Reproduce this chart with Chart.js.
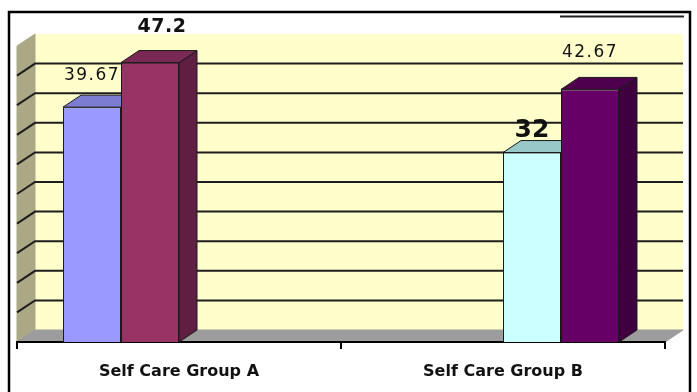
<!DOCTYPE html>
<html>
<head>
<meta charset="utf-8">
<script src="https://cdn.jsdelivr.net/npm/chart.js@4.4.0/dist/chart.umd.min.js"></script>
<style>
body{margin:0;background:#fff}
canvas{display:block}
</style>
</head>
<body>
<canvas id="chart" width="697" height="392"></canvas>
<script>
// data ------------------------------------------->
const categories = ['Self Care Group A', 'Self Care Group B']
const seriesA1 = [39.67, null]
const seriesA2 = [47.2, null]
const seriesB1 = [null, 32]
const seriesB2 = [null, 42.67]
const yMax = 50
const yStep = 5

// 3d look ---------------------------------------->
const DX = 18, DY = 12

const poly = (ctx, pts) => {
    ctx.beginPath()
    pts.forEach((p, i) => i ? ctx.lineTo(p[0], p[1]) : ctx.moveTo(p[0], p[1]))
    ctx.closePath()
    ctx.fill()
    ctx.stroke()
}

const box3d = {
    id: 'box3d',
    beforeDraw(chart) {
        const {ctx, chartArea: a, scales: {y}} = chart
        ctx.save()
        ctx.fillStyle = '#fff'
        ctx.fillRect(0, 0, chart.width, chart.height)
        // back wall
        ctx.fillStyle = '#ffffcc'
        ctx.fillRect(a.left + DX, a.top - DY, a.width, a.height)
        ctx.lineWidth = 1
        // left wall
        ctx.fillStyle = '#aba985'
        ctx.strokeStyle = '#aba985'
        poly(ctx, [[a.left, a.top], [a.left + DX, a.top - DY], [a.left + DX, a.bottom - DY], [a.left, a.bottom]])
        // floor
        ctx.fillStyle = '#9c9c9c'
        ctx.strokeStyle = '#9c9c9c'
        poly(ctx, [[a.left, a.bottom], [a.left + DX, a.bottom - DY], [a.right + DX, a.bottom - DY], [a.right, a.bottom]])
        // grid lines on the walls
        ctx.strokeStyle = '#1e1e1e'
        ctx.lineWidth = 2
        y.ticks.forEach(t => {
            if (t.value <= 0 || t.value >= yMax) return
            const py = y.getPixelForValue(t.value)
            ctx.beginPath()
            ctx.moveTo(a.left, py)
            ctx.lineTo(a.left + DX, py - DY)
            ctx.lineTo(a.right + DX, py - DY)
            ctx.stroke()
        })
        ctx.restore()
    },
    beforeDatasetsDraw(chart) {
        const ctx = chart.ctx
        ctx.save()
        ctx.lineWidth = 1
        ctx.strokeStyle = '#1a1a1a'
        chart.data.datasets.forEach((ds, i) => {
            chart.getDatasetMeta(i).data.forEach((bar, j) => {
                if (ds.data[j] == null) return
                const {x, y, width, base} = bar.getProps(['x', 'y', 'width', 'base'], true)
                const l = x - width / 2, r = x + width / 2
                ctx.fillStyle = ds.sideColor
                poly(ctx, [[r, y], [r + DX, y - DY], [r + DX, base - DY], [r, base]])
                ctx.fillStyle = ds.topColor
                poly(ctx, [[l, y], [l + DX, y - DY], [r + DX, y - DY], [r, y]])
            })
        })
        ctx.restore()
    },
    afterDatasetsDraw(chart) {
        const ctx = chart.ctx
        ctx.save()
        ctx.fillStyle = '#111'
        ctx.textAlign = 'center'
        ctx.textBaseline = 'alphabetic'
        chart.data.datasets.forEach((ds, i) => {
            chart.getDatasetMeta(i).data.forEach((bar, j) => {
                if (ds.data[j] == null) return
                ctx.font = ds.labelFont
                ctx.letterSpacing = ds.labelSpacing
                ctx.fillText(String(ds.data[j]), bar.x + ds.labelShift, bar.y - ds.labelLift)
            })
        })
        ctx.restore()
    },
    afterDraw(chart) {
        const ctx = chart.ctx
        ctx.save()
        ctx.strokeStyle = '#000'
        ctx.lineWidth = 2.5
        ctx.beginPath()
        ctx.moveTo(9, chart.height)
        ctx.lineTo(9, 12)
        ctx.lineTo(690, 12)
        ctx.lineTo(690, chart.height)
        ctx.stroke()
        ctx.lineWidth = 2
        ctx.strokeStyle = '#222'
        ctx.beginPath()
        ctx.moveTo(560, 16.5)
        ctx.lineTo(684, 16.5)
        ctx.stroke()
        ctx.restore()
    }
}

// chart ------------------------------------------>
const mkSet = (label, data, front, top, side, font, spacing, lift, shift) => ({
    label, data,
    backgroundColor: front,
    borderColor: '#1a1a1a',
    borderWidth: 1,
    topColor: top, sideColor: side,
    labelFont: font, labelSpacing: spacing, labelLift: lift, labelShift: shift
})

new Chart(document.getElementById('chart'), {
    type: 'bar',
    data: {
        labels: categories,
        datasets: [
            mkSet('A1', seriesA1, '#9999ff', '#7c7cd2', '#6b6bb8', '17px "DejaVu Sans"', '1.5px', 27, 0),
            mkSet('A2', seriesA2, '#993366', '#7a2954', '#5f1f42', 'bold 19px "DejaVu Sans"', '0.5px', 31, 12),
            mkSet('B1', seriesB1, '#ccffff', '#99c8c8', '#88b0b0', 'bold 25px "DejaVu Sans"', '0px', 16, 0),
            mkSet('B2', seriesB2, '#660066', '#4e004e', '#3e003e', '17px "DejaVu Sans"', '1.5px', 32, 0)
        ]
    },
    options: {
        responsive: false,
        animation: false,
        devicePixelRatio: 1,
        layout: {padding: {left: 17, right: 32, top: 46, bottom: 0}},
        plugins: {legend: {display: false}, tooltip: {enabled: false}},
        datasets: {bar: {categoryPercentage: 0.716, barPercentage: 1.0}},
        scales: {
            x: {
                afterFit: s => { s.height = 50 },
                grid: {offset: true, drawOnChartArea: false, drawTicks: true, tickLength: 7, color: '#000', lineWidth: 2},
                border: {display: true, color: '#000', width: 2},
                ticks: {color: '#111', padding: 13, font: {family: '"DejaVu Sans"', size: 16, weight: 'bold'}}
            },
            y: {
                display: false,
                min: 0,
                max: yMax,
                ticks: {stepSize: yStep}
            }
        }
    },
    plugins: [box3d]
})
</script>
</body>
</html>
